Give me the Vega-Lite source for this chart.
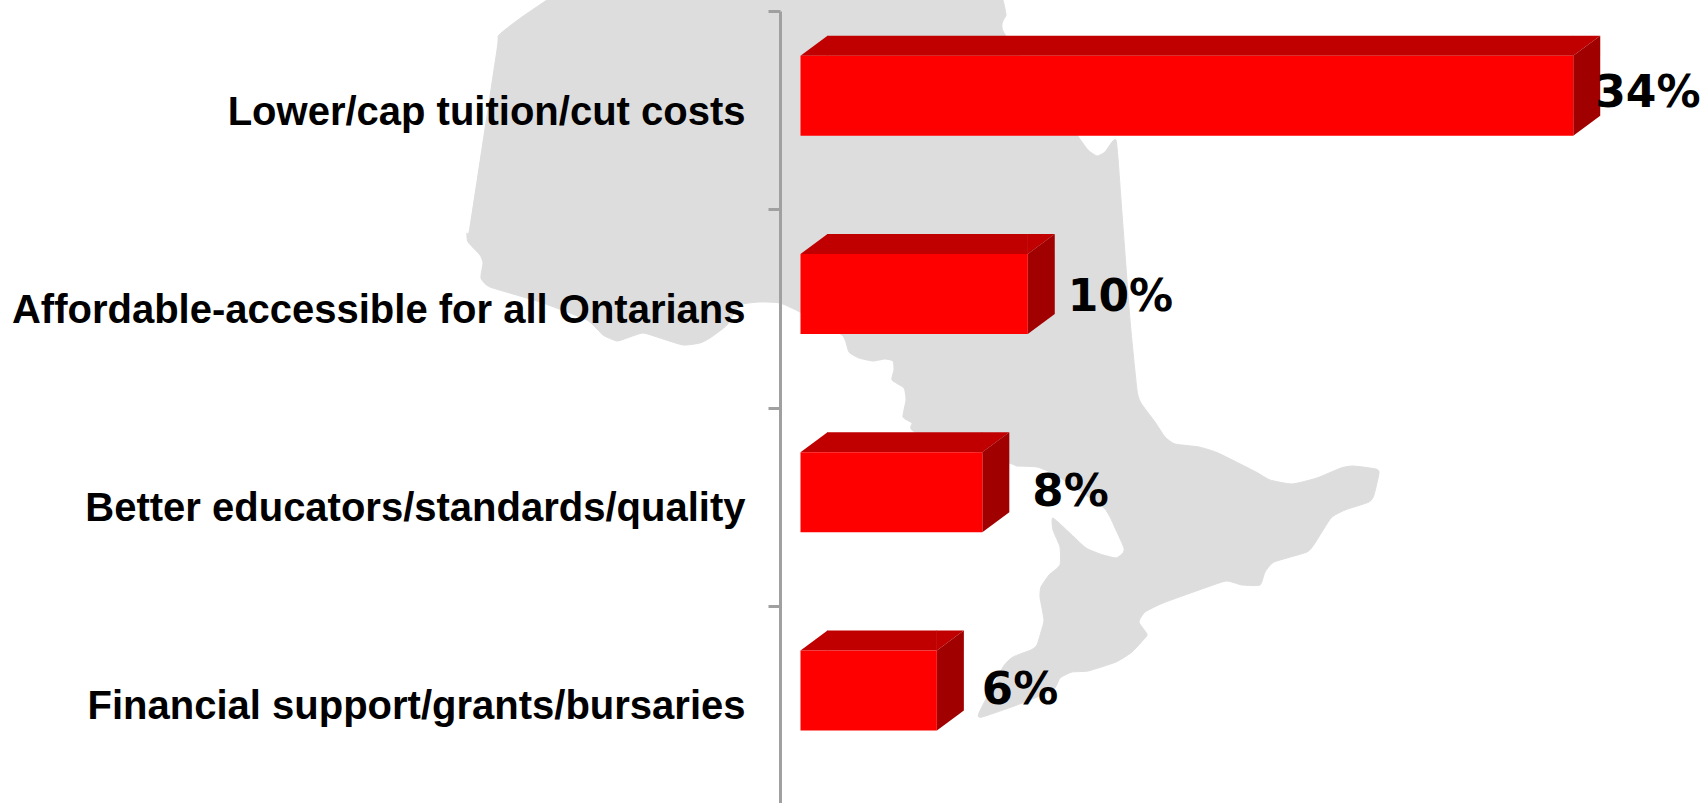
{"$schema":"https://vega.github.io/schema/vega-lite/v6.json","width":928,"height":793,"autosize":{"type":"none"},"padding":{"left":780,"top":11,"right":0,"bottom":0},"background":"white","config":{"view":{"stroke":null}},
"datasets":{"bars":[{"label":"Lower/cap tuition/cut costs","value":34,"text":"34%"},{"label":"Affordable-accessible for all Ontarians","value":10,"text":"10%"},{"label":"Better educators/standards/quality","value":8,"text":"8%"},{"label":"Financial support/grants/bursaries","value":6,"text":"6%"}],
"ontario":[{"i":1,"px":547,"py":0},{"i":2,"px":522,"py":17},{"i":3,"px":499,"py":35},{"i":4,"px":497,"py":50},{"i":5,"px":470,"py":227},{"i":6,"px":467,"py":233},{"i":7,"px":468,"py":242},{"i":8,"px":480,"py":255},{"i":9,"px":483,"py":263},{"i":10,"px":481,"py":278},{"i":11,"px":490,"py":287},{"i":12,"px":540,"py":302},{"i":13,"px":587,"py":320},{"i":14,"px":603,"py":335},{"i":15,"px":617,"py":341},{"i":16,"px":627,"py":338},{"i":17,"px":643,"py":333},{"i":18,"px":660,"py":338},{"i":19,"px":683,"py":345},{"i":20,"px":700,"py":343},{"i":21,"px":710,"py":338},{"i":22,"px":727,"py":325},{"i":23,"px":740,"py":305},{"i":24,"px":760,"py":302},{"i":25,"px":780,"py":303},{"i":26,"px":800,"py":312},{"i":27,"px":842,"py":335},{"i":28,"px":849,"py":352},{"i":29,"px":859,"py":358},{"i":30,"px":873,"py":361},{"i":31,"px":885,"py":359},{"i":32,"px":893,"py":361},{"i":33,"px":894,"py":370},{"i":34,"px":892,"py":380},{"i":35,"px":904,"py":388},{"i":36,"px":906,"py":400},{"i":37,"px":903,"py":417},{"i":38,"px":912,"py":423},{"i":39,"px":915,"py":432},{"i":40,"px":1009,"py":463},{"i":41,"px":1017,"py":466},{"i":42,"px":1037,"py":467},{"i":43,"px":1056,"py":475},{"i":44,"px":1104,"py":508},{"i":45,"px":1116,"py":530},{"i":46,"px":1124,"py":548},{"i":47,"px":1123,"py":553},{"i":48,"px":1116,"py":558},{"i":49,"px":1100,"py":554},{"i":50,"px":1086,"py":548},{"i":51,"px":1074,"py":537},{"i":52,"px":1053,"py":518},{"i":53,"px":1053,"py":530},{"i":54,"px":1060,"py":547},{"i":55,"px":1060,"py":565},{"i":56,"px":1049,"py":575},{"i":57,"px":1041,"py":587},{"i":58,"px":1040,"py":597},{"i":59,"px":1044,"py":620},{"i":60,"px":1041,"py":632},{"i":61,"px":1037,"py":645},{"i":62,"px":1031,"py":650},{"i":63,"px":1013,"py":657},{"i":64,"px":1003,"py":667},{"i":65,"px":979,"py":713},{"i":66,"px":982,"py":717},{"i":67,"px":1017,"py":705},{"i":68,"px":1053,"py":690},{"i":69,"px":1060,"py":678},{"i":70,"px":1072,"py":672},{"i":71,"px":1088,"py":671},{"i":72,"px":1116,"py":662},{"i":73,"px":1132,"py":652},{"i":74,"px":1145,"py":638},{"i":75,"px":1147,"py":634},{"i":76,"px":1139,"py":622},{"i":77,"px":1145,"py":612},{"i":78,"px":1163,"py":603},{"i":79,"px":1199,"py":590},{"i":80,"px":1226,"py":581},{"i":81,"px":1242,"py":585},{"i":82,"px":1260,"py":585},{"i":83,"px":1265,"py":572},{"i":84,"px":1274,"py":562},{"i":85,"px":1307,"py":552},{"i":86,"px":1315,"py":543},{"i":87,"px":1331,"py":518},{"i":88,"px":1345,"py":510},{"i":89,"px":1369,"py":502},{"i":90,"px":1374,"py":495},{"i":91,"px":1379,"py":473},{"i":92,"px":1376,"py":469},{"i":93,"px":1353,"py":466},{"i":94,"px":1341,"py":468},{"i":95,"px":1317,"py":478},{"i":96,"px":1292,"py":484},{"i":97,"px":1270,"py":480},{"i":98,"px":1256,"py":472},{"i":99,"px":1218,"py":453},{"i":100,"px":1199,"py":447},{"i":101,"px":1175,"py":444},{"i":102,"px":1165,"py":437},{"i":103,"px":1155,"py":422},{"i":104,"px":1141,"py":403},{"i":105,"px":1137,"py":390},{"i":106,"px":1130,"py":320},{"i":107,"px":1121,"py":200},{"i":108,"px":1116,"py":140},{"i":109,"px":1105,"py":152},{"i":110,"px":1097,"py":156},{"i":111,"px":1088,"py":150},{"i":112,"px":1077,"py":135},{"i":113,"px":1004,"py":33},{"i":114,"px":1006,"py":15},{"i":115,"px":1003,"py":0}]},
"layer":[
{"data":{"name":"ontario"},"mark":{"type":"line","fill":"#dddddd","stroke":"#dddddd","strokeWidth":1,"clip":false,"interpolate":"cardinal","tension":0.5},"encoding":{"x":{"field":"px","type":"quantitative","scale":{"domain":[780,1708],"nice":false,"zero":false},"axis":null},"y":{"field":"py","type":"quantitative","scale":{"domain":[804,11],"nice":false,"zero":false},"axis":null},"order":{"field":"i","type":"quantitative"}}},
{"data":{"name":"bars"},
"encoding":{"y":{"field":"label","type":"nominal","sort":null,"scale":{"paddingInner":0,"paddingOuter":0},"axis":{"title":null,"orient":"left","zindex":1,"tickBand":"extent","tickSize":12,"tickWidth":3,"tickColor":"#a0a0a0","domainColor":"#a0a0a0","domainWidth":3,"labelFont":"Liberation Sans","labelFontWeight":"bold","labelFontSize":40,"labelColor":"black","labelPadding":23,"labelLimit":800,"labelOffset":2,"grid":false}}},
"layer":[
{"mark":{"type":"bar","size":20,"yOffset":-64.4,"x2Offset":27,"color":"#c00000"},"encoding":{"x":{"field":"value","type":"quantitative","stack":null,"scale":{"domain":[-0.902,39.93],"nice":false,"zero":false},"axis":null},"x2":{"datum":0}}},
{"mark":{"type":"point","filled":true,"size":4,"opacity":1,"strokeWidth":0,"color":"#c00000","shape":"M0,-54.4L27.5,-54.4L27.5,-74.4L27,-74.4Z"},"encoding":{"x":{"datum":0,"scale":{"domain":[-0.902,39.93],"nice":false,"zero":false},"axis":null}}},
{"mark":{"type":"point","filled":true,"size":4,"opacity":1,"strokeWidth":0,"color":"#c00000","shape":"M-0.5,-54.4L0,-54.4L27,-74.4L-0.5,-74.4Z"},"encoding":{"x":{"field":"value","type":"quantitative","scale":{"domain":[-0.902,39.93],"nice":false,"zero":false},"axis":null}}},
{"mark":{"type":"point","filled":true,"size":4,"opacity":1,"strokeWidth":0,"color":"#a00000","shape":"M0,-54.4L27,-74.4L27,5.6L0,25.6Z"},"encoding":{"x":{"field":"value","type":"quantitative","scale":{"domain":[-0.902,39.93],"nice":false,"zero":false},"axis":null}}},
{"mark":{"type":"bar","size":80,"yOffset":-14.4,"color":"#ff0000"},"encoding":{"x":{"field":"value","type":"quantitative","scale":{"domain":[-0.902,39.93],"nice":false,"zero":false},"axis":null}}},
{"transform":[{"filter":"datum.value==34"}],"mark":{"type":"text","align":"left","baseline":"middle","dx":22,"dy":-16,"font":"DejaVu Sans","fontWeight":"bold","fontSize":44,"color":"black"},"encoding":{"x":{"field":"value","type":"quantitative","scale":{"domain":[-0.902,39.93],"nice":false,"zero":false},"axis":null},"text":{"field":"text"}}},
{"transform":[{"filter":"datum.value==10"}],"mark":{"type":"text","align":"left","baseline":"middle","dx":40,"dy":-10,"font":"DejaVu Sans","fontWeight":"bold","fontSize":44,"color":"black"},"encoding":{"x":{"field":"value","type":"quantitative","scale":{"domain":[-0.902,39.93],"nice":false,"zero":false},"axis":null},"text":{"field":"text"}}},
{"transform":[{"filter":"datum.value==8"}],"mark":{"type":"text","align":"left","baseline":"middle","dx":50,"dy":-15,"font":"DejaVu Sans","fontWeight":"bold","fontSize":45,"color":"black"},"encoding":{"x":{"field":"value","type":"quantitative","scale":{"domain":[-0.902,39.93],"nice":false,"zero":false},"axis":null},"text":{"field":"text"}}},
{"transform":[{"filter":"datum.value==6"}],"mark":{"type":"text","align":"left","baseline":"middle","dx":45,"dy":-15,"font":"DejaVu Sans","fontWeight":"bold","fontSize":45,"color":"black"},"encoding":{"x":{"field":"value","type":"quantitative","scale":{"domain":[-0.902,39.93],"nice":false,"zero":false},"axis":null},"text":{"field":"text"}}}
]}
],"resolve":{"scale":{"x":"independent","y":"independent"}}}
